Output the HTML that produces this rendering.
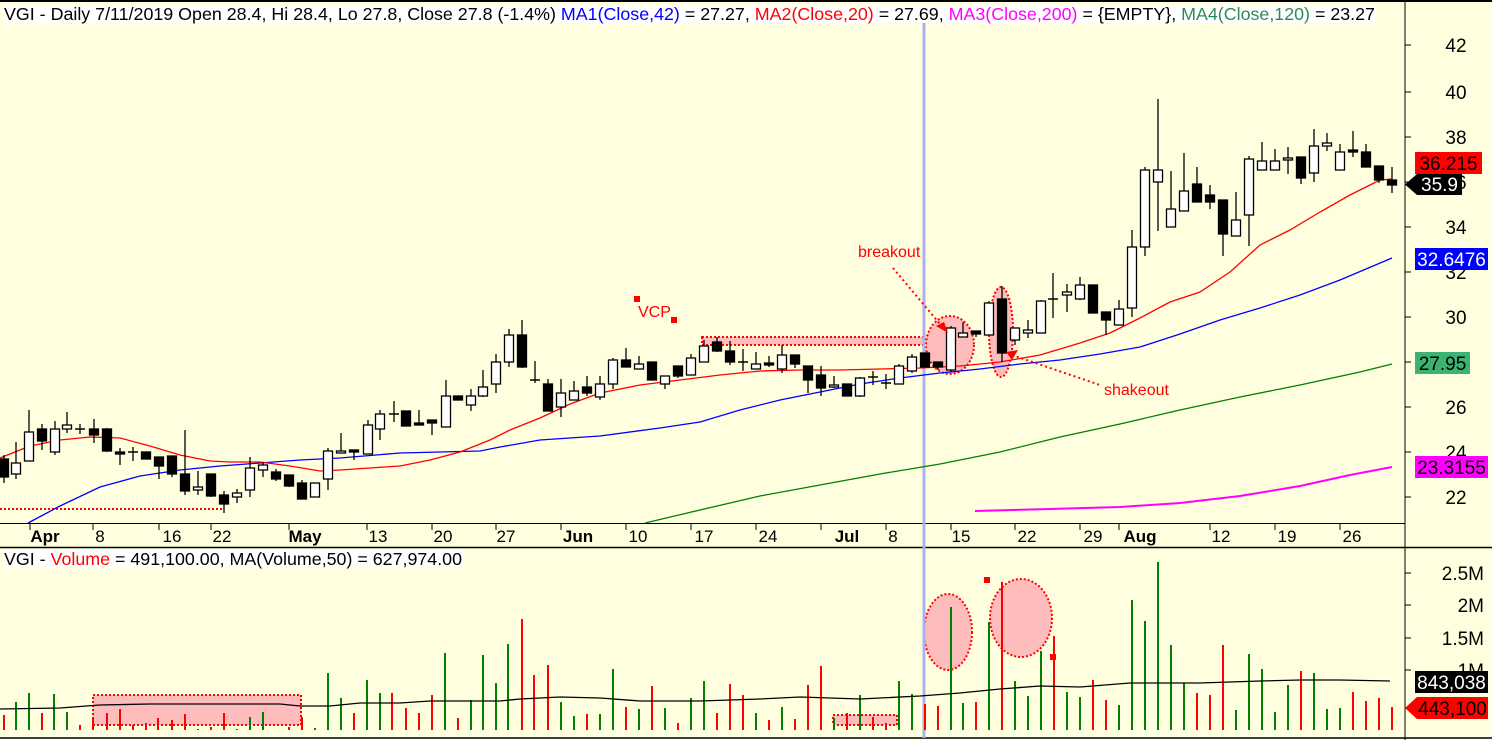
<!DOCTYPE html>
<html><head><meta charset="utf-8"><style>
html,body{margin:0;padding:0;background:#ffffe0;}
svg{display:block;font-family:"Liberation Sans",Arial,sans-serif;}
</style></head><body>
<svg id="s" width="1492" height="740" viewBox="0 0 1492 740" xmlns="http://www.w3.org/2000/svg">
<rect x="0" y="0" width="1492" height="740" fill="#ffffe0"/>
<line x1="0" y1="1" x2="1492" y2="1" stroke="#000" stroke-width="2"/>
<line x1="1405" y1="0" x2="1405" y2="740" stroke="#000" stroke-width="1"/>
<line x1="0" y1="523.5" x2="1405" y2="523.5" stroke="#000"/>
<line x1="0" y1="547.5" x2="1492" y2="547.5" stroke="#000" stroke-width="1.5"/>
<line x1="0" y1="738" x2="1492" y2="738" stroke="#000" stroke-width="1.5"/>
<g id="g"></g>
</svg>
<script>
const NS="http://www.w3.org/2000/svg",g=document.getElementById('g');
function el(t,a,txt){const e=document.createElementNS(NS,t);for(const k in a)e.setAttribute(k,a[k]);if(txt!==undefined)e.textContent=txt;g.appendChild(e);return e;}
// annotations background (pink)
el('rect',{x:702,y:337,width:223,height:8,fill:'#ffbcbc',stroke:'#f00','stroke-width':2,'stroke-dasharray':'2,2'});
el('rect',{x:93,y:695,width:208,height:30,fill:'#ffbcbc',stroke:'#f00','stroke-width':2,'stroke-dasharray':'2,2'});
el('rect',{x:833,y:715,width:64,height:10,fill:'#ffbcbc',stroke:'#f00','stroke-width':2,'stroke-dasharray':'2,2'});
el('ellipse',{cx:950,cy:345,rx:24,ry:29,fill:'#ffbcbc',stroke:'#f00','stroke-width':2,'stroke-dasharray':'2,2'});
el('ellipse',{cx:1001,cy:332,rx:12,ry:45,fill:'#ffbcbc',stroke:'#f00','stroke-width':2,'stroke-dasharray':'2,2'});
el('ellipse',{cx:948,cy:632,rx:24,ry:38,fill:'#ffbcbc',stroke:'#f00','stroke-width':2,'stroke-dasharray':'2,2'});
el('ellipse',{cx:1021,cy:618,rx:31,ry:39,fill:'#ffbcbc',stroke:'#f00','stroke-width':2,'stroke-dasharray':'2,2'});
el('line',{x1:924,y1:22,x2:924,y2:738,stroke:'#aab0f0','stroke-width':3});
el('line',{x1:0,y1:509,x2:222,y2:509,stroke:'#f00','stroke-width':2,'stroke-dasharray':'2,2'});
// price grid ticks & labels
const pl=[[42,45],[40,92],[38,137],[36,182],[34,227],[32,272],[30,317],[28,362],[26,407],[24,452],[22,497]];
pl.forEach(([v,y])=>{el('line',{x1:1405,y1:y,x2:1411,y2:y,stroke:'#000'});el('text',{x:1456,y:y+7,'font-size':19,'text-anchor':'middle'},v);});
[['2.5M',573],['2M',605],['1.5M',638],['1M',670]].forEach(([v,y])=>{el('line',{x1:1405,y1:y,x2:1411,y2:y,stroke:'#000'});el('text',{x:1484,y:y+7,'font-size':19,'text-anchor':'end'},v);});
// MA lines
function pl_(pts,c,w){el('polyline',{points:pts.map(p=>p.join(',')).join(' '),fill:'none',stroke:c,'stroke-width':w||1.3});}
pl_([[975,511],[1050,509],[1120,507],[1180,503],[1240,496],[1300,486],[1350,475],[1392,467]],'#f0f',2);
pl_([[645,523],[700,510],[760,496],[820,485],[880,474],[940,464],[1000,452],[1060,437],[1120,424],[1180,410],[1240,397],[1300,385],[1360,372],[1392,364]],'#008000');
pl_([[28,523],[60,506],[100,487],[140,476],[180,470],[220,466],[260,463],[300,460],[340,458],[400,453],[480,451],[500,447],[540,440],[600,436],[660,428],[700,422],[740,410],[780,400],[820,392],[860,384],[900,378],[940,373],[980,369],[1020,364],[1060,360],[1100,354],[1140,347],[1180,334],[1220,320],[1260,308],[1300,295],[1340,280],[1392,258]],'#00f');
pl_([[0,458],[30,446],[60,440],[90,437],[120,438],[150,446],[180,455],[210,461],[230,462],[260,462],[290,466],[320,471],[340,470],[370,468],[400,466],[430,460],[460,452],[490,440],[510,430],[540,418],[570,404],[600,393],[640,385],[680,380],[720,375],[760,371],[800,370],[840,370],[880,369],[920,368],[960,366],[1000,362],[1040,355],[1080,343],[1110,333],[1140,318],[1170,302],[1200,292],[1230,272],[1260,245],[1290,230],[1320,212],[1350,195],[1380,180],[1392,179]],'#f00');
// candles [x, bodyTop, bodyBot, wickTop, wickBot, filled]
const C=[[4,459,477,455,483,1],[16,463,474,442,479,0],[29,432,461,410,461,0],[42,429,441,424,450,1],[55,429,452,421,455,0],[67,425,429,412,433,0],[80,429,430,424,434,0],[94,429,435,419,443,1],[107,429,451,428,452,1],[120,452,454,448,465,1],[133,452,453,447,461,0],[146,452,459,452,459,1],[159,457,466,457,479,1],[172,456,474,456,477,1],[185,474,491,430,495,1],[198,487,490,471,495,0],[211,474,496,474,497,1],[224,495,504,491,513,1],[237,493,497,489,503,0],[250,468,490,457,497,0],[263,465,470,462,477,0],[276,472,479,469,481,1],[289,475,486,475,487,1],[302,483,499,480,499,1],[315,483,497,483,497,0],[328,451,479,448,490,0],[341,451,453,433,453,0],[354,450,452,450,460,1],[368,425,454,420,454,0],[380,414,429,410,440,0],[394,414,415,401,422,0],[406,411,426,411,426,1],[419,423,425,410,425,1],[432,420,423,420,435,1],[446,396,427,380,427,0],[458,396,400,396,400,1],[471,396,405,389,411,0],[483,387,396,370,397,0],[496,362,384,354,393,0],[509,335,362,329,367,0],[522,335,367,320,368,1],[535,380,381,361,383,0],[548,384,411,379,411,1],[561,393,407,379,417,0],[574,391,400,381,400,0],[587,387,393,376,396,1],[600,384,397,376,400,0],[613,360,384,358,389,0],[626,360,367,348,367,1],[639,364,369,356,369,0],[652,362,380,362,380,1],[665,376,384,376,389,0],[678,366,376,366,378,1],[691,358,375,354,375,0],[704,346,362,340,362,0],[717,342,351,337,352,1],[730,351,362,341,365,1],[743,362,363,349,371,0],[756,364,369,352,369,0],[769,363,365,356,367,1],[782,355,369,345,373,0],[795,355,364,355,368,1],[808,366,380,366,393,1],[821,375,388,366,396,1],[834,385,387,376,388,0],[847,384,396,384,396,1],[860,378,396,377,397,0],[873,377,378,371,385,0],[886,383,384,374,389,0],[899,366,384,364,384,0],[912,357,371,354,373,0],[925,353,367,353,367,1],[938,362,367,362,370,1],[951,328,370,326,372,0],[963,333,337,322,337,0],[976,331,334,331,337,1],[989,303,335,301,335,0],[1002,299,353,286,362,1],[1015,328,340,328,345,0],[1028,330,333,320,338,0],[1041,301,333,300,333,0],[1053,299,300,273,318,0],[1067,292,295,284,312,0],[1080,285,299,277,300,0],[1093,285,313,285,313,1],[1106,312,320,312,335,1],[1119,309,325,300,325,0],[1132,247,308,230,317,0],[1145,170,247,167,256,0],[1158,170,182,99,231,0],[1171,209,227,171,227,0],[1184,191,211,153,211,0],[1197,184,202,167,202,1],[1210,195,202,185,209,1],[1223,200,234,200,256,1],[1236,220,236,192,236,0],[1249,159,215,156,246,0],[1262,161,170,142,170,0],[1275,161,170,149,170,0],[1288,158,160,147,174,0],[1301,157,178,157,184,1],[1314,146,173,129,182,0],[1327,143,146,133,151,0],[1340,152,170,144,170,0],[1353,150,152,131,157,1],[1366,152,167,144,167,1],[1379,166,180,166,183,1],[1392,180,185,167,193,1]];
C.forEach(([x,t,b,h,l,f])=>{el('line',{x1:x,y1:h,x2:x,y2:l,stroke:'#000','stroke-width':1.3});
 if(b-t<2){el('line',{x1:x-5,y1:t,x2:x+5,y2:t,stroke:'#000','stroke-width':1.5});}
 else el('rect',{x:x-4.5,y:t,width:9,height:b-t,fill:f?'#000':'#fff',stroke:'#000','stroke-width':1.3});});
// volume
const V=[[4,715,'r'],[16,702,'g'],[29,693,'g'],[42,713,'r'],[54,694,'g'],[67,712,'g'],[80,725,'r'],[93,717,'r'],[107,713,'r'],[120,709,'r'],[133,725,'r'],[146,723,'r'],[158,718,'r'],[172,720,'r'],[185,714,'r'],[198,729,'g'],[211,727,'r'],[224,713,'r'],[237,729,'g'],[250,717,'g'],[263,712,'g'],[276,730,'r'],[289,727,'r'],[302,717,'r'],[315,728,'g'],[328,673,'g'],[341,698,'g'],[354,713,'r'],[367,680,'g'],[380,693,'g'],[392,693,'r'],[406,708,'r'],[419,713,'r'],[432,695,'r'],[445,653,'g'],[458,718,'r'],[471,700,'g'],[483,655,'g'],[496,683,'g'],[508,644,'g'],[522,619,'r'],[534,675,'r'],[548,665,'r'],[561,702,'g'],[574,716,'g'],[587,714,'r'],[600,714,'g'],[613,669,'g'],[626,707,'r'],[639,709,'g'],[652,686,'r'],[665,708,'g'],[678,723,'r'],[691,698,'g'],[704,681,'g'],[717,713,'r'],[730,684,'r'],[743,695,'r'],[756,713,'g'],[769,720,'r'],[782,707,'g'],[795,719,'r'],[808,685,'r'],[821,666,'r'],[834,718,'g'],[847,713,'r'],[860,695,'g'],[873,717,'r'],[886,723,'r'],[899,681,'g'],[912,694,'g'],[925,704,'r'],[938,706,'r'],[951,607,'g'],[963,703,'g'],[976,702,'r'],[989,622,'g'],[1002,582,'r'],[1015,681,'g'],[1028,696,'g'],[1041,651,'g'],[1054,636,'r'],[1067,692,'g'],[1080,697,'g'],[1093,680,'r'],[1106,700,'r'],[1119,705,'g'],[1132,600,'g'],[1145,621,'g'],[1158,562,'g'],[1171,645,'g'],[1184,683,'g'],[1197,693,'r'],[1210,695,'r'],[1223,645,'r'],[1236,710,'g'],[1249,654,'g'],[1262,669,'g'],[1275,712,'g'],[1288,685,'g'],[1301,671,'r'],[1314,673,'g'],[1327,709,'g'],[1340,708,'g'],[1353,692,'r'],[1366,701,'r'],[1379,698,'r'],[1392,707,'r']];
V.forEach(([x,t,c])=>el('line',{x1:x,y1:t,x2:x,y2:730,stroke:c=='r'?'#f00':'#008000','stroke-width':2}));
pl_([[0,709],[60,708],[100,705],[150,704],[280,704],[300,706],[330,706],[360,703],[400,703],[430,701],[500,701],[520,699],[560,697],[600,698],[640,701],[700,701],[760,699],[800,697],[860,699],[920,696],[960,693],[1000,689],[1040,686],[1080,687],[1130,683],[1160,683],[1200,683],[1260,681],[1300,680],[1340,680],[1390,681]],'#000');
el('rect',{x:984,y:577,width:6,height:6,fill:'#f00'});el('rect',{x:1050,y:654,width:6,height:6,fill:'#f00'});
// annotations text
el('rect',{x:634,y:296,width:6,height:6,fill:'#f00'});el('rect',{x:671,y:317,width:6,height:6,fill:'#f00'});
el('text',{x:638,y:317,'font-size':16,fill:'#f00'},'VCP');
el('text',{x:858,y:257,'font-size':16,fill:'#f00'},'breakout');
el('text',{x:1104,y:395,'font-size':16,fill:'#f00'},'shakeout');
el('line',{x1:893,y1:268,x2:945,y2:330,stroke:'#f00','stroke-width':2,'stroke-dasharray':'2,3'});
el('line',{x1:1012,y1:355,x2:1100,y2:385,stroke:'#f00','stroke-width':2,'stroke-dasharray':'2,3'});
el('polygon',{points:'948,333 936,326 944,322',fill:'#f00'});
el('polygon',{points:'1006,352 1018,350 1012,360',fill:'#f00'});
// date axis
[['Apr',30,45,1],['8',93,100],['16',159,172],['22',211,222],['May',289,305,1],['13',367,378],['20',432,443],['27',496,506],['Jun',561,578,1],['10',626,638],['17',691,704],['24',756,768],['Jul',821,847,1],['8',886,893],['15',951,961],['22',1015,1027],['29',1080,1093],['Aug',1119,1140,1],['12',1210,1221],['19',1275,1287],['26',1340,1352]].forEach(([t,tx,x,b])=>{
 el('line',{x1:tx,y1:523,x2:tx,y2:530,stroke:'#000'});
 el('text',{x:x,y:542,'font-size':17,'text-anchor':'middle','font-weight':b?'bold':'normal'},t);});
// headers
el('rect',{x:3,y:5,width:1373,height:18,fill:'#fff'});
const h=el('text',{x:4,y:20,'font-size':17.5});
[['VGI - Daily 7/11/2019 Open 28.4, Hi 28.4, Lo 27.8, Close 27.8 (-1.4%) ','#000'],['MA1(Close,42)','#00f'],[' = 27.27, ','#000'],['MA2(Close,20)','#f00'],[' = 27.69, ','#000'],['MA3(Close,200)','#f0f'],[' = {EMPTY}, ','#000'],['MA4(Close,120)','#2e8b57'],[' = 23.27','#000']].forEach(([t,c])=>{const s=document.createElementNS(NS,'tspan');s.setAttribute('fill',c);s.textContent=t;h.appendChild(s);});
h.setAttribute('textLength',1371);h.setAttribute('lengthAdjust','spacingAndGlyphs');
el('rect',{x:3,y:550,width:460,height:18,fill:'#fff'});
const h2=el('text',{x:4,y:565,'font-size':17.5});
[['VGI - ','#000'],['Volume','#f00'],[' = 491,100.00, MA(Volume,50) = 627,974.00','#000']].forEach(([t,c])=>{const s=document.createElementNS(NS,'tspan');s.setAttribute('fill',c);s.textContent=t;h2.appendChild(s);});
h2.setAttribute('textLength',458);h2.setAttribute('lengthAdjust','spacingAndGlyphs');
// right value boxes
function box(x,y,w,hh,bg,fg,t,arrow){
 if(arrow)el('polygon',{points:`${x-12},${y+hh/2} ${x},${y} ${x},${y+hh}`,fill:bg});
 el('rect',{x:x,y:y,width:w,height:hh,fill:bg});
 el('text',{x:x+w/2,y:y+hh-4,'font-size':19,'text-anchor':'middle',fill:fg},t);}
box(1415,152,67,22,'#f00','#000','36.215');
box(1417,174,45,21,'#000','#fff','35.9',1);
box(1415,248,73,22,'#00f','#fff','32.6476');
box(1415,352,55,22,'#3cb371','#000','27.95');
box(1415,456,73,22,'#f0f','#000','23.3155');
box(1415,671,73,22,'#000','#fff','843,038');
box(1417,697,71,22,'#f00','#000','443,100',1);
</script>
</body></html>
